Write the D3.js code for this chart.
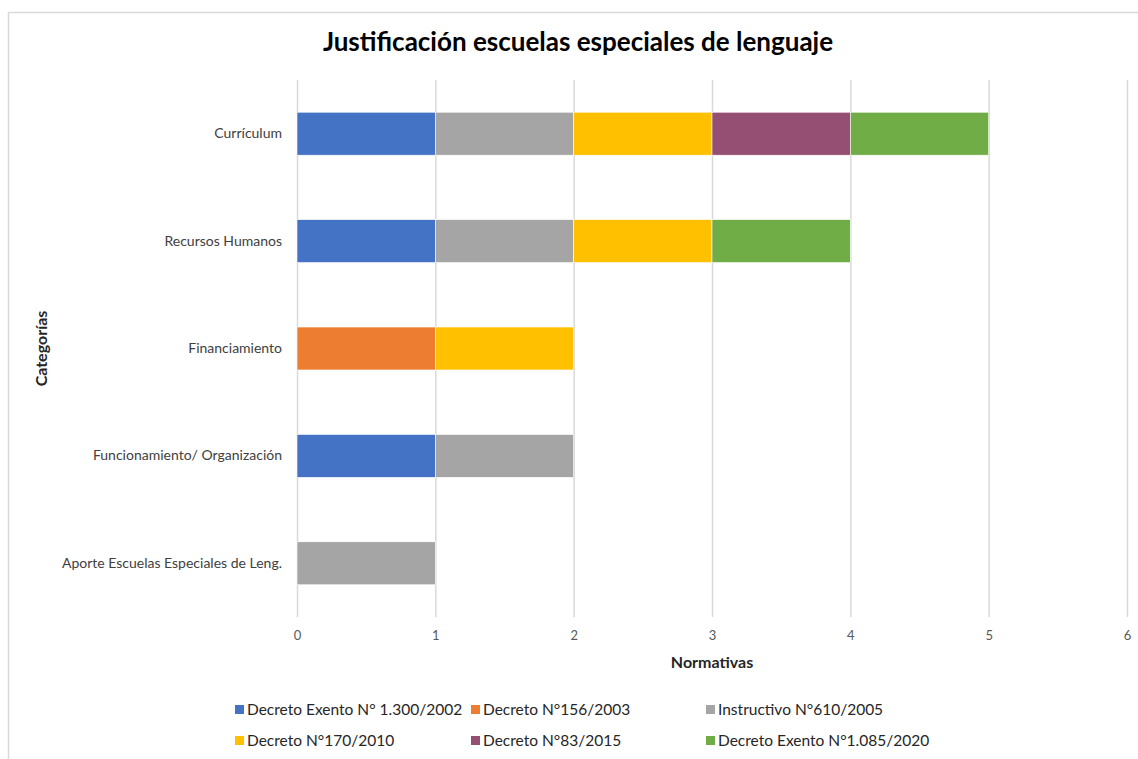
<!DOCTYPE html>
<html>
<head>
<meta charset="utf-8">
<script src="https://cdn.jsdelivr.net/npm/d3@7"></script>
<style>
    body { margin: 0; background: #fff; font-family: Lato, "Open Sans", sans-serif; }
    #chart { width: 1138px; height: 759px; }
</style>
</head>
<body>
<div id="chart"></div>
<script>
// categories (top to bottom)
const categories = ["Currículum", "Recursos Humanos", "Financiamiento", "Funcionamiento/ Organización", "Aporte Escuelas Especiales de Leng."];

// series (one per normativa)
const seriesNames = ["Decreto Exento N° 1.300/2002", "Decreto N°156/2003", "Instructivo N°610/2005", "Decreto N°170/2010", "Decreto N°83/2015", "Decreto Exento N°1.085/2020"];
const seriesColors = ["#4472C4", "#ED7D31", "#A5A5A5", "#FFC000", "#954F72", "#70AD47"];

// values per series, in the order of categories
const decreto1300 = [1, 1, 0, 1, 0];
const decreto156 = [0, 0, 1, 0, 0];
const instructivo610 = [1, 1, 0, 1, 1];
const decreto170 = [1, 1, 1, 0, 0];
const decreto83 = [1, 0, 0, 0, 0];
const decreto1085 = [1, 1, 0, 0, 0];

const xTicks = [0, 1, 2, 3, 4, 5, 6];

const seriesValues = [decreto1300, decreto156, instructivo610, decreto170, decreto83, decreto1085];

const width = 1138, height = 759;
const margin = { top: 80, right: 11, bottom: 142, left: 297 };

const svg = d3.select("#chart").append("svg")
    .attr("width", width)
    .attr("height", height);

// outer chart border (only top and left visible)
svg.append("path")
    .attr("d", "M8.5," + height + "V12.5H" + width)
    .attr("fill", "none")
    .attr("stroke", "#d9d9d9")
    .attr("stroke-width", 1.5);

// title
svg.append("text")
    .attr("x", 578)
    .attr("y", 51)
    .attr("text-anchor", "middle")
    .style("font-size", "26px")
    .style("font-weight", "bold")
    .style("fill", "#000")
    .text("Justificación escuelas especiales de lenguaje");

const table = categories.map((c, i) => {
    let row = { cat: c };
    seriesNames.forEach((s, j) => row[s] = seriesValues[j][i]);
    return row;
});

const stacked = d3.stack().keys(seriesNames)(table);

const x = d3.scaleLinear()
    .domain([0, 6])
    .range([margin.left, width - margin.right]);

const y = d3.scaleBand()
    .domain(categories)
    .range([margin.top, height - margin.bottom])
    .paddingInner(0.6)
    .paddingOuter(0.3);

// gridlines
svg.append("g")
    .selectAll("line")
    .data(xTicks)
    .join("line")
    .attr("x1", d => x(d) + 0.5)
    .attr("x2", d => x(d) + 0.5)
    .attr("y1", margin.top)
    .attr("y2", height - margin.bottom)
    .attr("stroke", "#d9d9d9")
    .attr("stroke-width", 1.5);

// bars
svg.append("g")
    .selectAll("g")
    .data(stacked)
    .join("g")
    .attr("fill", (d, i) => seriesColors[i])
    .selectAll("rect")
    .data(d => d.filter(p => p[1] - p[0] > 0))
    .join("rect")
    .attr("x", d => x(d[0]))
    .attr("width", d => x(d[1]) - x(d[0]))
    .attr("y", d => y(d.data.cat))
    .attr("height", y.bandwidth())
    .attr("stroke", "#fff")
    .attr("stroke-width", 0.6);

// x axis labels
const xAxis = d3.axisBottom(x)
    .tickValues(xTicks)
    .tickFormat(d3.format("d"))
    .tickSize(0)
    .tickPadding(14);

const gx = svg.append("g")
    .attr("transform", "translate(0," + (height - margin.bottom) + ")")
    .call(xAxis);
gx.select(".domain").remove();
gx.selectAll("text")
    .style("font-family", "Lato, sans-serif")
    .style("font-size", "13px")
    .style("fill", "#595959");

// y axis labels
const yAxis = d3.axisLeft(y)
    .tickSize(0)
    .tickPadding(15);

const gy = svg.append("g")
    .attr("transform", "translate(" + margin.left + ",0)")
    .call(yAxis);
gy.select(".domain").remove();
gy.selectAll("text")
    .style("font-family", "Lato, sans-serif")
    .style("font-size", "14px")
    .style("fill", "#404040");

// axis titles
svg.append("text")
    .attr("x", x(3))
    .attr("y", 668)
    .attr("text-anchor", "middle")
    .style("font-size", "16px")
    .style("font-weight", "bold")
    .style("fill", "#262626")
    .text("Normativas");

svg.append("text")
    .attr("transform", "translate(47," + ((margin.top + height - margin.bottom) / 2) + ") rotate(-90)")
    .attr("text-anchor", "middle")
    .style("font-size", "16px")
    .style("font-weight", "bold")
    .style("fill", "#262626")
    .text("Categorías");

// legend
const legendCols = [235, 471, 706];
const legendRows = [710, 741];

const legend = svg.append("g")
    .selectAll("g")
    .data(seriesNames)
    .join("g")
    .attr("transform", (d, i) => "translate(" + legendCols[i % 3] + "," + legendRows[Math.floor(i / 3)] + ")");

legend.append("rect")
    .attr("x", 0)
    .attr("y", -5)
    .attr("width", 9)
    .attr("height", 9)
    .attr("fill", (d, i) => seriesColors[i]);

legend.append("text")
    .attr("x", 12)
    .attr("y", 0)
    .attr("dy", "0.35em")
    .style("font-size", "15.5px")
    .style("fill", "#262626")
    .text(d => d);
</script>
</body>
</html>
